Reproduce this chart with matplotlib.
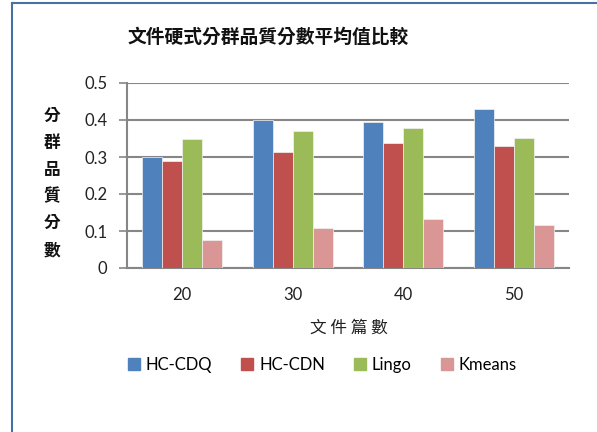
import matplotlib
matplotlib.use("Agg")
import matplotlib.pyplot as plt
from matplotlib.lines import Line2D
import numpy as np

categories = ["20", "30", "40", "50"]
series_names = ["HC-CDQ", "HC-CDN", "Lingo", "Kmeans"]
hc_cdq = [0.300, 0.401, 0.395, 0.430]
hc_cdn = [0.290, 0.314, 0.338, 0.329]
lingo = [0.349, 0.371, 0.378, 0.352]
kmeans = [0.077, 0.107, 0.132, 0.115]
yticks = [0, 0.1, 0.2, 0.3, 0.4, 0.5]
ytick_labels = ["0", "0.1", "0.2", "0.3", "0.4", "0.5"]
colors = ["#4F81BD", "#C0504D", "#9BBB59", "#D99694"]

W, H = 597, 432
fig = plt.figure(figsize=(W / 100, H / 100), dpi=100)
ax = fig.add_axes([127 / W, (H - 268) / H, (569 - 127) / W, (268 - 83) / H])

cjk = ["Noto Sans CJK TC", "DejaVu Sans"]
latin = ["Lato", "DejaVu Sans"]

x = np.arange(len(categories))
w = 0.182
data = [hc_cdq, hc_cdn, lingo, kmeans]
for i, (vals, c) in enumerate(zip(data, colors)):
    ax.bar(x + (i - 1.5) * w, vals, width=w, color=c, edgecolor="#f2f2f2",
           linewidth=0.5, zorder=3)

ax.set_xlim(-0.5, len(categories) - 0.5)
ax.set_ylim(0, 0.5)
ax.set_yticks(yticks)
ax.set_yticklabels(ytick_labels, fontfamily=latin, fontsize=12, color="#222222")
ax.set_xticks(x)
ax.set_xticklabels(categories, fontfamily=latin, fontsize=12, color="#222222")
ax.tick_params(axis="x", length=0, pad=14)
ax.tick_params(axis="y", length=6, width=1.2, color="#868686", pad=8)
ax.grid(axis="y", color="#868686", linewidth=1.5, zorder=0)
for s in ["top", "right"]:
    ax.spines[s].set_visible(False)
for s in ["left", "bottom"]:
    ax.spines[s].set_color("#868686")
    ax.spines[s].set_linewidth(1.5)

fig.text(268 / W, 1 - 37 / H, "文件硬式分群品質分數平均值比較", ha="center", va="center",
         fontfamily=cjk, fontsize=13.5, fontweight="bold", color="#111111")
fig.text(52 / W, 1 - 183 / H, "分\n群\n品\n質\n分\n數", ha="center", va="center",
         fontfamily=cjk, fontsize=12, fontweight="bold", linespacing=1.63, color="#111111")
fig.text(349 / W, 1 - 328 / H, "文 件 篇 數", ha="center", va="center",
         fontfamily=cjk, fontsize=12, color="#222222")

handles = [Line2D([], [], marker="s", linestyle="none", markersize=9,
                  markerfacecolor=c, markeredgecolor=c) for c in colors]
fig.legend(handles, series_names, loc="center", bbox_to_anchor=(322 / W, 1 - 365 / H),
           ncol=4, frameon=False, prop={"family": latin, "size": 12},
           handlelength=0.8, handletextpad=0.3, columnspacing=1.7)

border = "#4A6FA5"
fig.add_artist(Line2D([12 / W, 12 / W], [0, 1 - 3 / H], color=border, linewidth=1.5,
                      transform=fig.transFigure))
fig.add_artist(Line2D([12 / W, 1], [1 - 3 / H, 1 - 3 / H], color=border, linewidth=1.5,
                      transform=fig.transFigure))

fig.savefig("out.png", dpi=100, facecolor="white")
